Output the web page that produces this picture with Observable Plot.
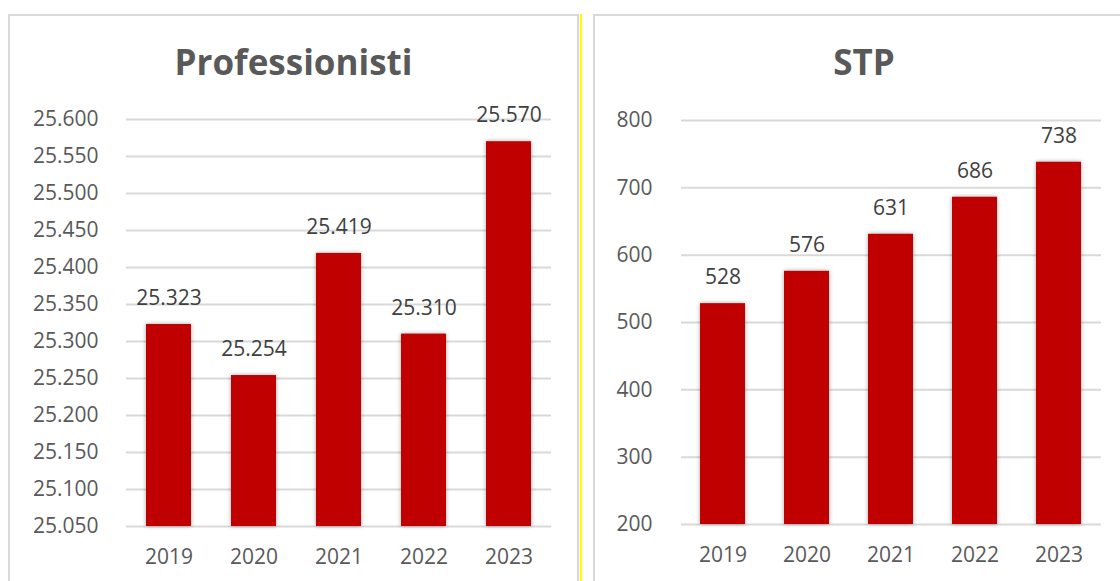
<!DOCTYPE html>
<html>
<head>
<meta charset="utf-8">
<script src="https://cdn.jsdelivr.net/npm/d3@7"></script>
<script src="https://cdn.jsdelivr.net/npm/@observablehq/plot@0.6"></script>
<style>
  html, body { margin: 0; padding: 0; background: #ffffff; }
  body { width: 1120px; height: 581px; position: relative; overflow: hidden; font-family: "Open Sans", sans-serif; }
  .panel { position: absolute; top: 14px; height: 600px; border: 2px solid #d9d9d9; box-sizing: border-box; background: #fff; }
  .title { position: absolute; top: 44px; font-family: "Open Sans", sans-serif; font-weight: 700; font-size: 35px; line-height: 1; color: #595959; text-align: center; }
  .chart { position: absolute; top: 90px; }
  .yellow { position: absolute; left: 580px; top: 14px; width: 2px; height: 580px; background: #ffff00; }
</style>
</head>
<body>
<div class="panel" style="left:8px; width:571px;"></div>
<div class="yellow"></div>
<div class="panel" style="left:593px; width:545px;"></div>
<div class="title" style="left:8px; width:571px;">Professionisti</div>
<div class="title" style="left:593px; width:542px;">STP</div>
<div class="chart" id="left" style="left:10px;"></div>
<div class="chart" id="right" style="left:595px;"></div>
<script>
const years = ["2019", "2020", "2021", "2022", "2023"];
const profValues = [25323, 25254, 25419, 25310, 25570];
const stpValues = [528, 576, 631, 686, 738];
const profTicks = [25050, 25100, 25150, 25200, 25250, 25300, 25350, 25400, 25450, 25500, 25550, 25600];
const stpTicks = [200, 300, 400, 500, 600, 700, 800];

const itLocale = d3.formatLocale({decimal: ",", thousands: ".", grouping: [3], currency: ["", " €"]});
const fmt = itLocale.format(",d");

function makeChart(values, ticks, opts) {
  const data = years.map((year, i) => ({year, value: values[i]}));
  const ymin = ticks[0], ymax = ticks[ticks.length - 1];
  const svg = Plot.plot({
    width: opts.width,
    height: 491,
    marginLeft: opts.marginLeft,
    marginRight: opts.marginRight,
    marginTop: opts.marginTop,
    marginBottom: opts.marginBottom,
    style: {fontFamily: "Open Sans, sans-serif", fontSize: "21px", color: "#595959", background: "transparent", overflow: "visible"},
    x: {domain: years, paddingInner: opts.padding, paddingOuter: opts.padding / 2, label: null, tickSize: 0, tickPadding: 23},
    y: {domain: [ymin, ymax], ticks: ticks, tickFormat: fmt, label: null, tickSize: 0, tickPadding: opts.yPad},
    marks: [
      Plot.ruleY(ticks, {stroke: "#d9d9d9", strokeWidth: 2, strokeOpacity: 1}),
      Plot.barY(data, {x: "year", y1: ymin, y2: "value", fill: "#c00000"}),
      Plot.text(data, {x: "year", y: "value", text: d => fmt(d.value), dy: -26, fill: "#404040", fontSize: 21}),
      Plot.axisX({tickSize: 0, tickPadding: 23, fontSize: 21}),
      Plot.axisY({ticks: ticks, tickFormat: fmt, tickSize: 0, tickPadding: opts.yPad, fontSize: 21})
    ]
  });
  svg.querySelectorAll('g[aria-label="bar"]').forEach(g => {
    g.style.filter = "drop-shadow(0px 0px 2px rgba(0,0,0,0.35))";
  });
  return svg;
}

document.getElementById("left").appendChild(makeChart(profValues, profTicks, {
  width: 566, marginLeft: 116, marginRight: 25, marginTop: 29, marginBottom: 55, padding: 0.47, yPad: 28
}));
document.getElementById("right").appendChild(makeChart(stpValues, stpTicks, {
  width: 525, marginLeft: 86, marginRight: 19, marginTop: 30, marginBottom: 57, padding: 0.464, yPad: 29
}));
</script>
</body>
</html>
